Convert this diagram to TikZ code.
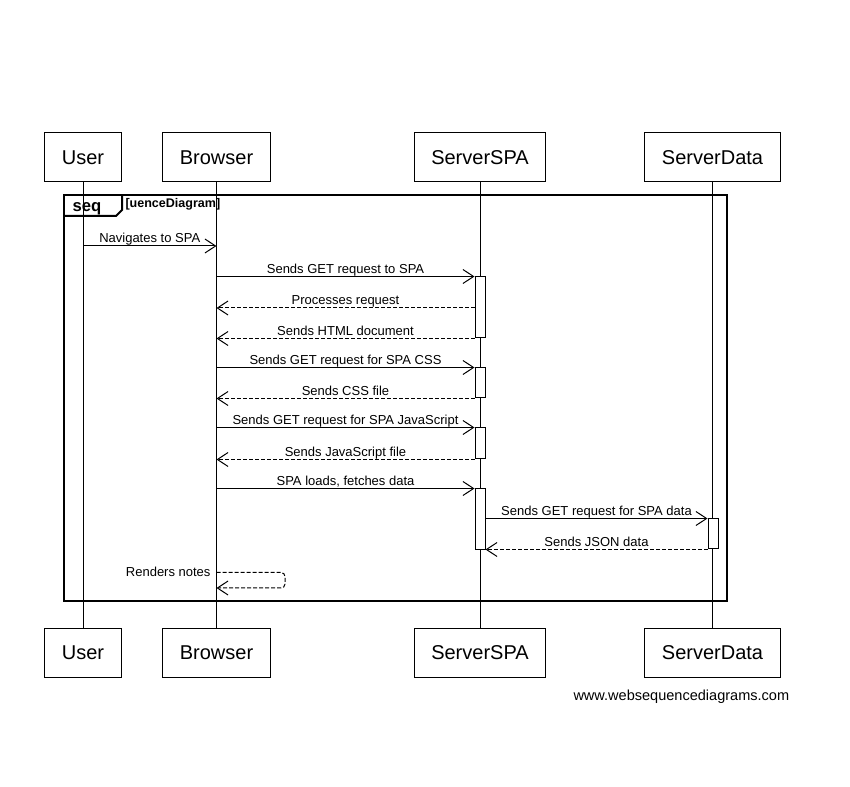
\documentclass[tikz,border=0pt]{standalone}
\usepackage{fontspec}
\setmainfont{Liberation Sans}
\usetikzlibrary{arrows.meta, fit}

\begin{document}
\begin{tikzpicture}[x=.75pt, y=-.75pt, line width=.75pt,
  lane/.style={draw, fill=white, minimum height=36.75pt, inner xsep=12.75pt, font=\fontsize{15}{18}\selectfont},
  act/.style={draw, fill=white, inner sep=0pt},
  msg/.style={-{Straight Barb[length=8pt,width=10.5pt]}},
  ret/.style={msg, dash pattern=on 3pt off 1.5pt},
  lbl/.style={anchor=base, yshift=2.6pt, inner sep=0pt, font=\fontsize{9.75}{12}\selectfont},
  sdframe/.style={line width=1.5pt}]
\useasboundingbox (0,0) rectangle (850,787);
\foreach \n/\x/\t in {u/83/User, b/216.5/Browser, s/480/ServerSPA, d/712.5/ServerData}{
  \node[lane] (\n) at (\x,157.5) {\t};
  \node[lane] (\n2) at (\x,653) {\t};
  \draw (\n) -- (\n2);
}
\draw[sdframe] (64,195) rectangle (727,601);
\draw[sdframe] (64,216) -- (116,216) -- (122,210) -- (122,195);
\node[anchor=base, inner sep=0pt, font=\bfseries\fontsize{12.5}{14}\selectfont] (tab) at (87,212) {seq};
\node[anchor=base west, inner sep=0pt, font=\bfseries\fontsize{9.4}{11}\selectfont] (ttl) at (125,207.5) {[uenceDiagram]};
% activations
\node[act, fit={(475,277) (485,338)}] (a1) {};
\node[act, fit={(475,368) (485,398)}] (a2) {};
\node[act, fit={(475,428) (485,459)}] (a3) {};
\node[act, fit={(475,489) (485,550)}] (a4) {};
\node[act, fit={(708,519) (718,549)}] (e1) {};
% messages
\draw[msg] (u |- 0,246) -- node[lbl]{Navigates to SPA} (b |- 0,246);
\draw[msg] (b |- a1.north) -- node[lbl]{Sends GET request to SPA} (a1.north west);
\draw[ret] (a1.west |- 0,308) -- node[lbl]{Processes request} (b |- 0,308);
\draw[ret] (a1.south west) -- node[lbl]{Sends HTML document} (b |- a1.south);
\draw[msg] (b |- a2.north) -- node[lbl]{Sends GET request for SPA CSS} (a2.north west);
\draw[ret] (a2.south west) -- node[lbl]{Sends CSS file} (b |- a2.south);
\draw[msg] (b |- a3.north) -- node[lbl]{Sends GET request for SPA JavaScript} (a3.north west);
\draw[ret] (a3.south west) -- node[lbl]{Sends JavaScript file} (b |- a3.south);
\draw[msg] (b |- a4.north) -- node[lbl]{SPA loads, fetches data} (a4.north west);
\draw[msg] (a4.east |- e1.north) -- node[lbl]{Sends GET request for SPA data} (e1.north west);
\draw[ret] (e1.south west) -- node[lbl]{Sends JSON data} (a4.east |- e1.south);
\draw[ret, rounded corners=3pt] (b |- 0,572.5) -- (285,572.5) -- (285,588) -- (b |- 0,588);
\node[anchor=base east, inner sep=0pt, font=\fontsize{9.75}{12}\selectfont] (rn) at (211,577) {Renders notes};
\node[anchor=base west, inner sep=0pt, font=\fontsize{10.9}{12}\selectfont] (wm) at (573,700) {www.websequencediagrams.com};
\end{tikzpicture}
\end{document}
